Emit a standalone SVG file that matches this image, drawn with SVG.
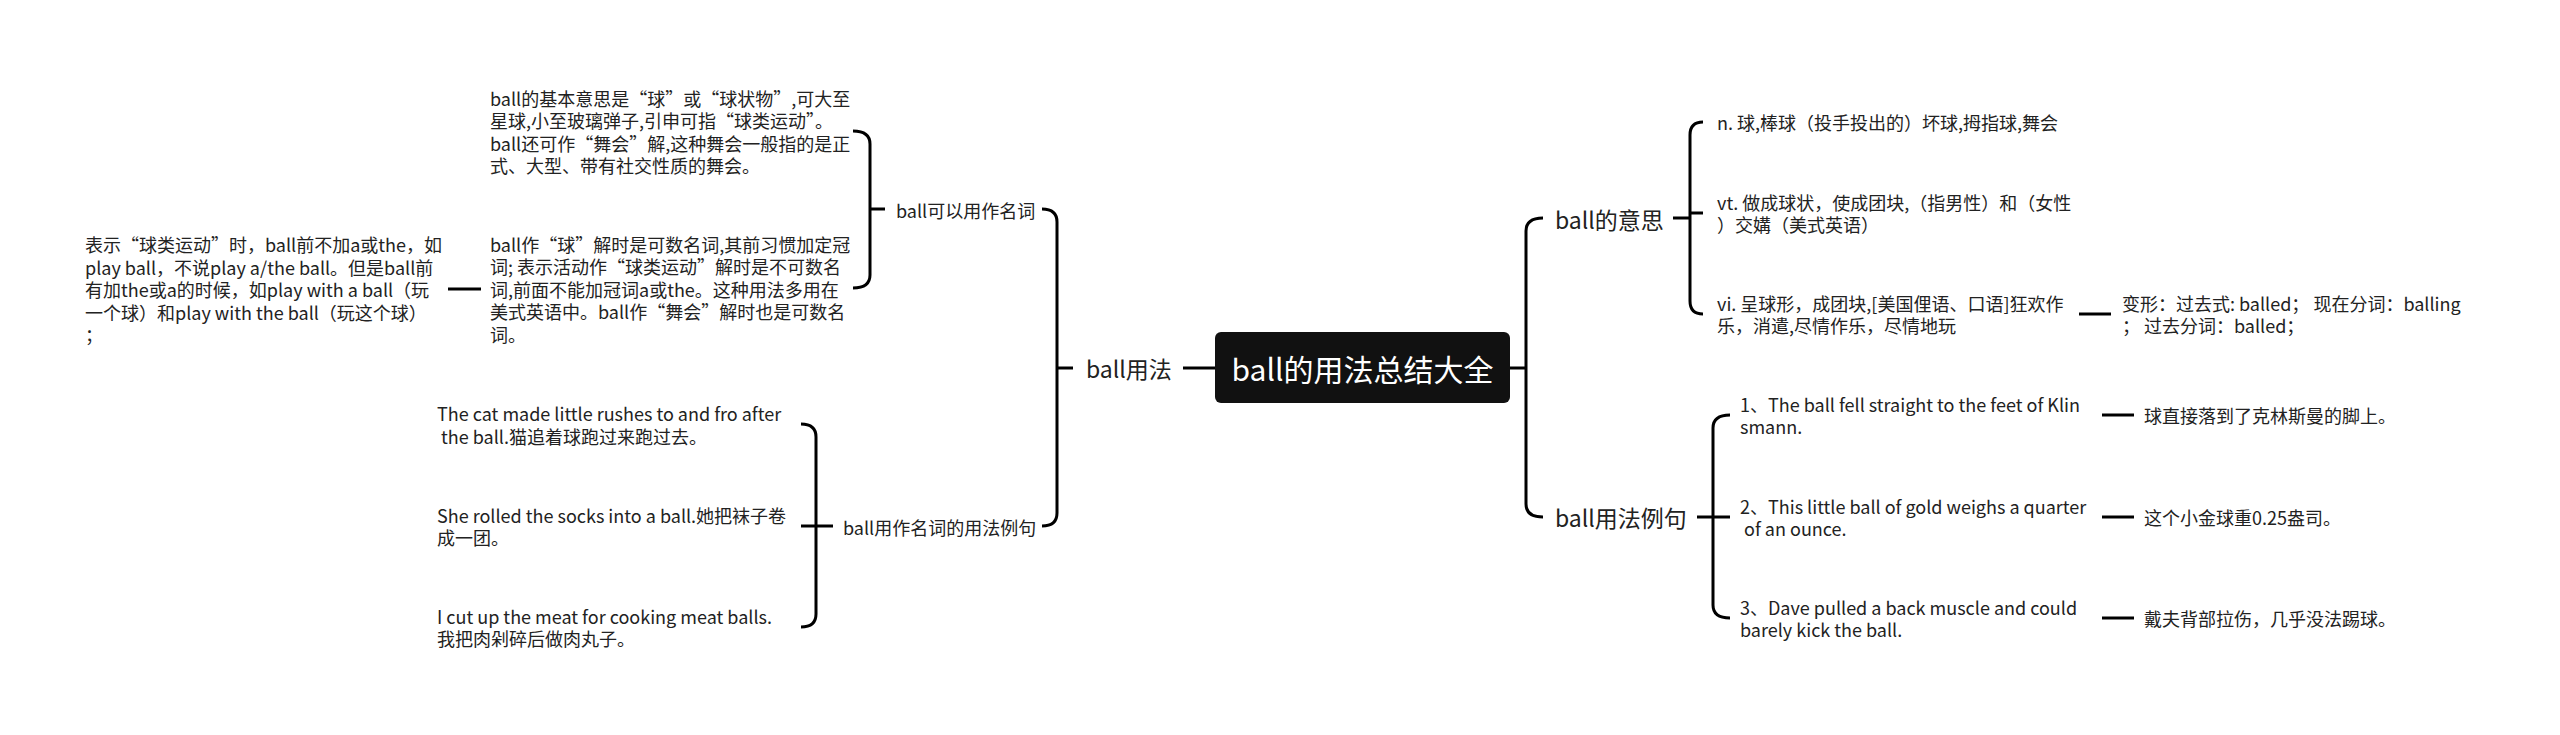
<svg xmlns="http://www.w3.org/2000/svg" width="2560" height="735" viewBox="0 0 2560 735">
<style>
text{font-family:"Noto Sans CJK SC","Noto Sans",sans-serif;fill:#222;dominant-baseline:central}
.leaf{font-size:18px}
.l2{font-size:18px}
.l1{font-size:23px}
.root{font-size:30px;fill:#fff;text-anchor:middle}
.c{fill:none;stroke:#000;stroke-width:3;stroke-linecap:butt}
</style>
<rect width="2560" height="735" fill="#fff"/>
<g id="connectors">
<path class="c" d="M1183,368 H1215"/>
<path class="c" d="M1042,209 Q1057,209 1057,222 V513 Q1057,526 1042,526"/>
<path class="c" d="M1057,368 H1073"/>
<path class="c" d="M853,131 Q870,131 870,144 V275 Q870,288 853,288"/>
<path class="c" d="M870,209 H885"/>
<path class="c" d="M448,289 H481"/>
<path class="c" d="M801,424 Q816,424 816,437 V614 Q816,627 801,627"/>
<path class="c" d="M801,526 H833"/>
<path class="c" d="M1510,368 H1526"/>
<path class="c" d="M1543,218 Q1526,218 1526,231 V504 Q1526,517 1543,517"/>
<path class="c" d="M1673,218 H1690"/>
<path class="c" d="M1703,122 Q1690,122 1690,135 V301 Q1690,314 1703,314"/>
<path class="c" d="M1690,213 H1703"/>
<path class="c" d="M2079,314 H2111"/>
<path class="c" d="M1697,517 H1730"/>
<path class="c" d="M1730,415 Q1713,415 1713,428 V605 Q1713,618 1730,618"/>
<path class="c" d="M2102,415 H2134"/>
<path class="c" d="M2102,517 H2134"/>
<path class="c" d="M2102,618 H2134"/>
</g>
<g id="root">
<rect x="1215" y="332" width="295" height="71" rx="6" fill="#111"/>
<text class="root" x="1362.5" y="367.5">ball的用法总结大全</text>
</g>
<g id="n-usage"><text class="l1" x="1086" y="368">ball用法</text></g>
<g id="n-noun"><text class="l2" x="896" y="210">ball可以用作名词</text></g>
<g id="n-p1"><text class="leaf"><tspan x="490" y="97.75">ball的基本意思是“球”或“球状物”,可大至</tspan><tspan x="490" y="120.25">星球,小至玻璃弹子,引申可指“球类运动”。</tspan><tspan x="490" y="142.75">ball还可作“舞会”解,这种舞会一般指的是正</tspan><tspan x="490" y="165.25">式、大型、带有社交性质的舞会。</tspan></text></g>
<g id="n-p2"><text class="leaf"><tspan x="490" y="243.5">ball作“球”解时是可数名词,其前习惯加定冠</tspan><tspan x="490" y="266">词; 表示活动作“球类运动”解时是不可数名</tspan><tspan x="490" y="288.5">词,前面不能加冠词a或the。这种用法多用在</tspan><tspan x="490" y="311">美式英语中。ball作“舞会”解时也是可数名</tspan><tspan x="490" y="333.5">词。</tspan></text></g>
<g id="n-p3"><text class="leaf"><tspan x="85" y="244">表示“球类运动”时，ball前不加a或the，如</tspan><tspan x="85" y="266.5">play ball，不说play a/the ball。但是ball前</tspan><tspan x="85" y="289">有加the或a的时候，如play with a ball（玩</tspan><tspan x="85" y="311.5">一个球）和play with the ball（玩这个球）</tspan><tspan x="85" y="334">；</tspan></text></g>
<g id="n-examples-noun"><text class="l2" x="843" y="527">ball用作名词的用法例句</text></g>
<g id="n-e1"><text class="leaf"><tspan x="437" y="413.25">The cat made little rushes to and fro after</tspan><tspan x="437" y="435.75"> the ball.猫追着球跑过来跑过去。</tspan></text></g>
<g id="n-e2"><text class="leaf"><tspan x="437" y="514.75">She rolled the socks into a ball.她把袜子卷</tspan><tspan x="437" y="537.25">成一团。</tspan></text></g>
<g id="n-e3"><text class="leaf"><tspan x="437" y="615.75">I cut up the meat for cooking meat balls.</tspan><tspan x="437" y="638.25">我把肉剁碎后做肉丸子。</tspan></text></g>
<g id="n-meaning"><text class="l1" x="1555" y="219">ball的意思</text></g>
<g id="n-m1"><text class="leaf" x="1717" y="122">n. 球,棒球（投手投出的）坏球,拇指球,舞会</text></g>
<g id="n-m2"><text class="leaf"><tspan x="1717" y="201.75">vt. 做成球状，使成团块,（指男性）和（女性</tspan><tspan x="1717" y="224.25">）交媾（美式英语）</tspan></text></g>
<g id="n-m3"><text class="leaf"><tspan x="1717" y="302.75">vi. 呈球形，成团块,[美国俚语、口语]狂欢作</tspan><tspan x="1717" y="325.25">乐，消遣,尽情作乐，尽情地玩</tspan></text></g>
<g id="n-forms"><text class="leaf"><tspan x="2122" y="302.75">变形：过去式: balled；  现在分词：balling</tspan><tspan x="2122" y="325.25">；  过去分词：balled；</tspan></text></g>
<g id="n-examples"><text class="l1" x="1555" y="517">ball用法例句</text></g>
<g id="n-x1"><text class="leaf"><tspan x="1740" y="403.75">1、The ball fell straight to the feet of Klin</tspan><tspan x="1740" y="426.25">smann.</tspan></text></g>
<g id="n-x2"><text class="leaf"><tspan x="1740" y="505.75">2、This little ball of gold weighs a quarter</tspan><tspan x="1740" y="528.25"> of an ounce.</tspan></text></g>
<g id="n-x3"><text class="leaf"><tspan x="1740" y="606.75">3、Dave pulled a back muscle and could</tspan><tspan x="1740" y="629.25">barely kick the ball.</tspan></text></g>
<g id="n-t1"><text class="leaf" x="2144" y="415">球直接落到了克林斯曼的脚上。</text></g>
<g id="n-t2"><text class="leaf" x="2144" y="517">这个小金球重0.25盎司。</text></g>
<g id="n-t3"><text class="leaf" x="2144" y="618">戴夫背部拉伤，几乎没法踢球。</text></g>
</svg>
